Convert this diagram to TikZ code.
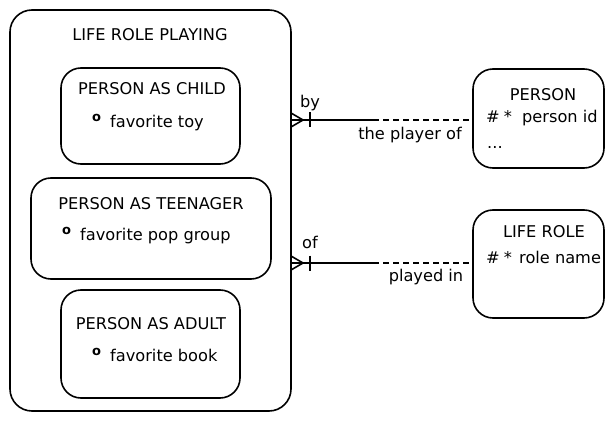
\documentclass[tikz,border=0pt]{standalone}
\usepackage{fontspec}
\setmainfont{DejaVu Sans}
\newcommand{\attrmark}{\raisebox{6pt}{\fontsize{13}{13}\selectfont\bfseries o}}
\begin{document}
\begin{tikzpicture}[x=1pt,y=-1pt,
  box/.style={draw,line width=1.6pt,rounded corners=#1},
  lbl/.style={font=\fontsize{16.2}{18}\selectfont,inner sep=0pt,anchor=base},
  lblw/.style={lbl,anchor=base west},
  rel/.style={line width=1.6pt},
  opt/.style={line width=2.2pt,dash pattern=on 6pt off 4pt}]
\useasboundingbox (0,0) rectangle (607,422);
% supertype and its subtypes
\draw[box=22pt] (10,10) rectangle (291,411);
\node[lbl] (lrp) at (150,41) {LIFE ROLE PLAYING};
\draw[box=20pt] (61,68) rectangle (240,164);
\node[lbl] (child) at (152,95) {PERSON AS CHILD};
\node[lblw] (toymark) at (92,128) {\attrmark};
\node[lblw] (toy) at (110,128) {favorite toy};
\draw[box=20pt] (31,178) rectangle (271,279);
\node[lbl] (teen) at (151,209) {PERSON AS TEENAGER};
\node[lblw] (popmark) at (62,240) {\attrmark};
\node[lblw] (pop) at (80,240) {favorite pop group};
\draw[box=20pt] (61,290) rectangle (240,398);
\node[lbl] (adult) at (151,329) {PERSON AS ADULT};
\node[lblw] (bookmark) at (92,361) {\attrmark};
\node[lblw] (book) at (110,361) {favorite book};
% related entities
\draw[box=20pt] (473,69) rectangle (604,168);
\node[lbl] (person) at (543,101) {PERSON};
\node[lblw] (pidkey) at (486,123) {\#\hspace{4pt}*};
\node[lblw] (pid) at (522,123) {person id};
\node[lblw] (dots) at (487,149) {...};
\draw[box=20pt] (473,210) rectangle (604,318);
\node[lbl] (liferole) at (544,237) {LIFE ROLE};
\node[lblw] (rnamekey) at (486,263) {\#\hspace{4pt}*};
\node[lblw] (rname) at (519,263) {role name};
% relationship: played by a person
\coordinate (a1) at (291,120);
\coordinate (m1) at (373,120);
\coordinate (b1) at (473,120);
\draw[rel] (a1) -- (m1);
\draw[opt] (m1) -- (b1);
\draw[rel] (a1 |- 0,113) -- (303,120) -- (a1 |- 0,127);
\draw[rel] (310,112.5) -- (310,127.5);
\node[lbl] (by) at (310,108) {by};
\node[lbl] (pof) at (410,140) {the player of};
% relationship: of a life role
\coordinate (a2) at (291,263);
\coordinate (m2) at (373,263);
\coordinate (b2) at (473,263);
\draw[rel] (a2) -- (m2);
\draw[opt] (m2) -- (b2);
\draw[rel] (a2 |- 0,256) -- (303,263) -- (a2 |- 0,270);
\draw[rel] (310,255.5) -- (310,270.5);
\node[lbl] (of) at (310,248) {of};
\node[lbl] (pin) at (426,281) {played in};
\end{tikzpicture}
\end{document}
